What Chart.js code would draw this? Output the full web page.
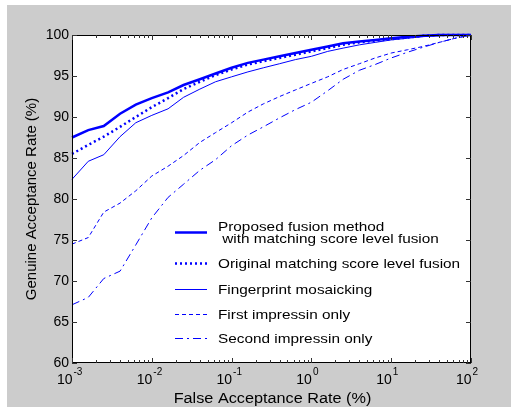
<!DOCTYPE html>
<html>
<head>
<meta charset="utf-8">
<script src="https://cdn.jsdelivr.net/npm/chart.js@4.4.0/dist/chart.umd.min.js"></script>
<style>
  html, body { margin: 0; padding: 0; background: #fff; }
</style>
</head>
<body>
<canvas id="roc" width="511" height="407"></canvas>
<script>
// Data ==================================

// False acceptance rate (%), shared x values
const far = [0.001, 0.0016, 0.0025, 0.004, 0.0063, 0.01, 0.016, 0.025, 0.04, 0.063,
             0.1, 0.16, 0.25, 0.4, 0.63, 1, 1.6, 2.5, 4, 6.3, 10, 16, 25, 40, 63, 100];

// Genuine acceptance rate (%) per method
const proposed = [87.5, 88.4, 88.9, 90.4, 91.5, 92.3, 93.0, 93.9, 94.6, 95.3, 96.0, 96.6, 97.0,
                  97.4, 97.8, 98.2, 98.6, 99.0, 99.2, 99.4, 99.6, 99.8, 99.9, 100, 100, 100];
const original = [85.5, 86.6, 87.6, 88.8, 90.0, 91.2, 92.3, 93.4, 94.3, 95.1, 95.8, 96.4, 96.8,
                  97.2, 97.6, 98.0, 98.4, 98.8, 99.1, 99.3, 99.5, 99.7, 99.9, 100, 100, 100];
const mosaic = [82.4, 84.6, 85.4, 87.6, 89.3, 90.2, 91.0, 92.4, 93.4, 94.3, 94.9, 95.5, 96.0,
                96.5, 97.0, 97.4, 98.0, 98.4, 98.8, 99.1, 99.4, 99.6, 99.8, 99.9, 100, 100];
const firstOnly = [74.5, 75.3, 78.4, 79.5, 81.0, 82.8, 84.0, 85.3, 86.9, 88.1, 89.3, 90.6, 91.6,
                   92.5, 93.3, 94.1, 94.9, 95.8, 96.5, 97.2, 97.8, 98.2, 98.6, 99.1, 99.6, 100];
const secondOnly = [67.1, 68.0, 70.3, 71.2, 74.4, 77.7, 80.2, 81.8, 83.5, 84.8, 86.5, 87.8, 88.8,
                    89.9, 90.9, 91.8, 93.2, 94.6, 95.7, 96.4, 97.2, 97.9, 98.5, 99.1, 99.6, 100];

const seriesLabels = [
  'Proposed fusion method\n with matching score level fusion',
  'Original matching score level fusion',
  'Fingerprint mosaicking',
  'First impressin only',
  'Second impressin only'
];

// Axis ticks
const xTickExps = [-3, -2, -1, 0, 1, 2];
const yTicks = [60, 65, 70, 75, 80, 85, 90, 95, 100];

const xTitle = 'False Acceptance Rate (%)';
const yTitle = 'Genuine Acceptance Rate (%)';

//   Helpers =============================

function pts(ys) {
  return far.map((x, i) => ({ x: x, y: ys[i] }));
}

function stretchText(ctx, text, x, y, sx, align) {
  ctx.save();
  ctx.translate(x, y);
  ctx.scale(sx, 1);
  ctx.textAlign = align;
  ctx.fillText(text, 0, 0);
  ctx.restore();
}

const BLUE = '#0000ff';
const FONT = '"Liberation Sans", Arial, Helvetica, sans-serif';

//   Frame / axes / legend plugin ========

const matlabFrame = {
  id: 'matlabFrame',
  beforeDraw(chart) {
    const ctx = chart.ctx;
    const a = chart.chartArea;
    ctx.save();
    ctx.fillStyle = '#ffffff';
    ctx.fillRect(0, 0, chart.width, chart.height);
    ctx.fillStyle = '#cccccc';
    ctx.fillRect(7, 5, chart.width - 7, chart.height - 5);
    ctx.fillStyle = '#ffffff';
    ctx.fillRect(a.left, a.top, a.right - a.left, a.bottom - a.top);
    ctx.restore();
  },
  afterDraw(chart) {
    const ctx = chart.ctx;
    const a = chart.chartArea;
    const xs = chart.scales.x;
    const ys = chart.scales.y;
    ctx.save();

    // box
    ctx.strokeStyle = '#000000';
    ctx.lineWidth = 1;
    ctx.strokeRect(a.left + 0.5, a.top + 0.5, a.right - a.left - 1, a.bottom - a.top - 1);

    // y ticks + labels
    ctx.strokeStyle = '#333333';
    ctx.fillStyle = '#000000';
    ctx.font = '14px ' + FONT;
    ctx.textBaseline = 'middle';
    yTicks.forEach(v => {
      const y = Math.round(ys.getPixelForValue(v)) + 0.5;
      ctx.beginPath();
      ctx.moveTo(a.left, y); ctx.lineTo(a.left + 5, y);
      ctx.moveTo(a.right, y); ctx.lineTo(a.right - 5, y);
      ctx.stroke();
      stretchText(ctx, String(v), a.left - 3, y, 1, 'right');
    });

    // x ticks (log, with minors)
    for (let e = xTickExps[0]; e <= xTickExps[xTickExps.length - 1]; e++) {
      for (let m = 1; m <= 9; m++) {
        const v = m * Math.pow(10, e);
        if (v > xs.max * 1.0001) break;
        const x = Math.round(xs.getPixelForValue(v)) + 0.5;
        const len = m === 1 ? 5 : 3;
        ctx.beginPath();
        ctx.moveTo(x, a.bottom); ctx.lineTo(x, a.bottom - len);
        ctx.moveTo(x, a.top); ctx.lineTo(x, a.top + len);
        ctx.stroke();
      }
    }

    // x tick labels: 10^e
    ctx.textBaseline = 'alphabetic';
    xTickExps.forEach(e => {
      const x = xs.getPixelForValue(Math.pow(10, e));
      ctx.font = '14px ' + FONT;
      stretchText(ctx, '10', x + 0.5, a.bottom + 21, 1, 'right');
      ctx.font = '10px ' + FONT;
      stretchText(ctx, String(e), x + 1.5, a.bottom + 12, 1, 'left');
    });

    // axis titles
    ctx.font = '14px ' + FONT;
    stretchText(ctx, xTitle, (a.left + a.right) / 2 + 1, chart.height - 4, 1.16, 'center');
    ctx.save();
    ctx.translate(36, (a.top + a.bottom) / 2);
    ctx.rotate(-Math.PI / 2);
    ctx.scale(1.07, 1);
    ctx.textAlign = 'center';
    ctx.fillText(yTitle, 0, 0);
    ctx.restore();

    // legend (inside plot, no box)
    const rowY = [232, 263, 289, 314, 338];
    ctx.font = '13px ' + FONT;
    chart.data.datasets.forEach((ds, i) => {
      const y = rowY[i] + 0.5;
      ctx.save();
      ctx.strokeStyle = ds.borderColor;
      ctx.lineWidth = ds.borderWidth;
      ctx.setLineDash(ds.borderDash || []);
      ctx.beginPath();
      ctx.moveTo(175, y); ctx.lineTo(207, y);
      ctx.stroke();
      ctx.restore();
      const lines = ds.label.split('\n');
      if (lines.length > 1) {
        lines.forEach((t, k) => stretchText(ctx, t, 218, rowY[i] - 1 + k * 12, 1.18, 'left'));
      } else {
        stretchText(ctx, lines[0], 218, rowY[i] + 4.5, 1.18, 'left');
      }
    });

    ctx.restore();
  }
};

//   Chart ===============================

const styles = [
  { width: 2.5, dash: [] },
  { width: 2.5, dash: [2, 3] },
  { width: 1, dash: [] },
  { width: 1, dash: [4, 3] },
  { width: 1, dash: [8, 4, 2, 4] }
];
const seriesData = [proposed, original, mosaic, firstOnly, secondOnly];

const rocChart = new Chart(document.getElementById('roc'), {
  type: 'line',
  data: {
    datasets: seriesData.map((ys, i) => ({
      label: seriesLabels[i],
      data: pts(ys),
      borderColor: BLUE,
      borderWidth: styles[i].width,
      borderDash: styles[i].dash,
      pointRadius: 0,
      tension: 0,
      fill: false,
      clip: 3
    }))
  },
  options: {
    responsive: false,
    animation: false,
    devicePixelRatio: 1,
    layout: { padding: { left: 72, top: 35, right: 40, bottom: 44 } },
    plugins: {
      legend: { display: false },
      tooltip: { enabled: false }
    },
    scales: {
      x: { type: 'logarithmic', min: 0.001, max: 100, display: false },
      y: { type: 'linear', min: 60, max: 100, display: false }
    }
  },
  plugins: [matlabFrame]
});
</script>
</body>
</html>
